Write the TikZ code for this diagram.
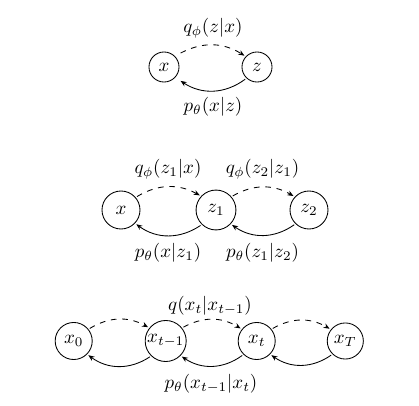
\documentclass[tikz,border=0pt]{standalone}
\usetikzlibrary{arrows.meta}
\begin{document}
\begin{tikzpicture}[x=0.5263pt,y=-0.5263pt,
  state/.style={draw,circle,inner sep=0pt,outer sep=1pt,line width=0.45pt},
  fwd/.style={dashed,line width=0.45pt,-{Stealth[length=3.2pt,width=2.6pt]},bend left=30},
  bwd/.style={line width=0.45pt,-{Stealth[length=3.2pt,width=2.6pt]},bend left=35},
  lbl/.style={inner sep=0pt}]
\useasboundingbox (0,0) rectangle (419,406);
% top
\node[state,minimum size=15.8pt,outer sep=3.5pt] (tx) at (164,67) {$x$};
\node[state,minimum size=15.8pt] (tz) at (257,67) {$z$};
\draw[fwd] (tx.40) to (tz.138);
\draw[bwd] (tz.226) to (tx.-40);
\node[lbl] (tq) at (213,28) {$q_\phi(z|x)$};
\node[lbl] (tp) at (213,106.5) {$p_\theta(x|z)$};
% middle
\node[state,minimum size=20pt] (mx) at (121,210) {$x$};
\node[state,minimum size=21pt] (mz1) at (216,210) {$z_1$};
\node[state,minimum size=20pt] (mz2) at (309,210) {$z_2$};
\draw[fwd] (mx.40) to (mz1.138);
\draw[fwd] (mz1.40) to (mz2.138);
\draw[bwd] (mz1.225) to (mx.-43);
\draw[bwd] (mz2.225) to (mz1.-43);
\node[lbl] (mq1) at (168,169) {$q_\phi(z_1|x)$};
\node[lbl] (mq2) at (262.5,169) {$q_\phi(z_2|z_1)$};
\node[lbl] (mp1) at (168,252.5) {$p_\theta(x|z_1)$};
\node[lbl] (mp2) at (262.5,252.5) {$p_\theta(z_1|z_2)$};
% bottom
\node[state,minimum size=19.5pt] (b0) at (73.7,341) {$x_0$};
\node[state,minimum size=21.6pt] (b1) at (165.7,341) {$x_{t-1}$};
\node[state,minimum size=19.5pt] (b2) at (256.7,341) {$x_t$};
\node[state,minimum size=19pt] (b3) at (345.3,341) {$x_T$};
\draw[fwd] (b0.38) to (b1.142);
\draw[fwd] (b1.38) to (b2.142);
\draw[fwd] (b2.38) to (b3.142);
\draw[bwd] (b1.225) to (b0.-44);
\draw[bwd] (b2.225) to (b1.-44);
\draw[bwd] (b3.225) to (b2.-44);
\node[lbl] (bq) at (210,305.5) {$q(x_t|x_{t-1})$};
\node[lbl] (bp) at (211,384) {$p_\theta(x_{t-1}|x_t)$};
\end{tikzpicture}
\end{document}
